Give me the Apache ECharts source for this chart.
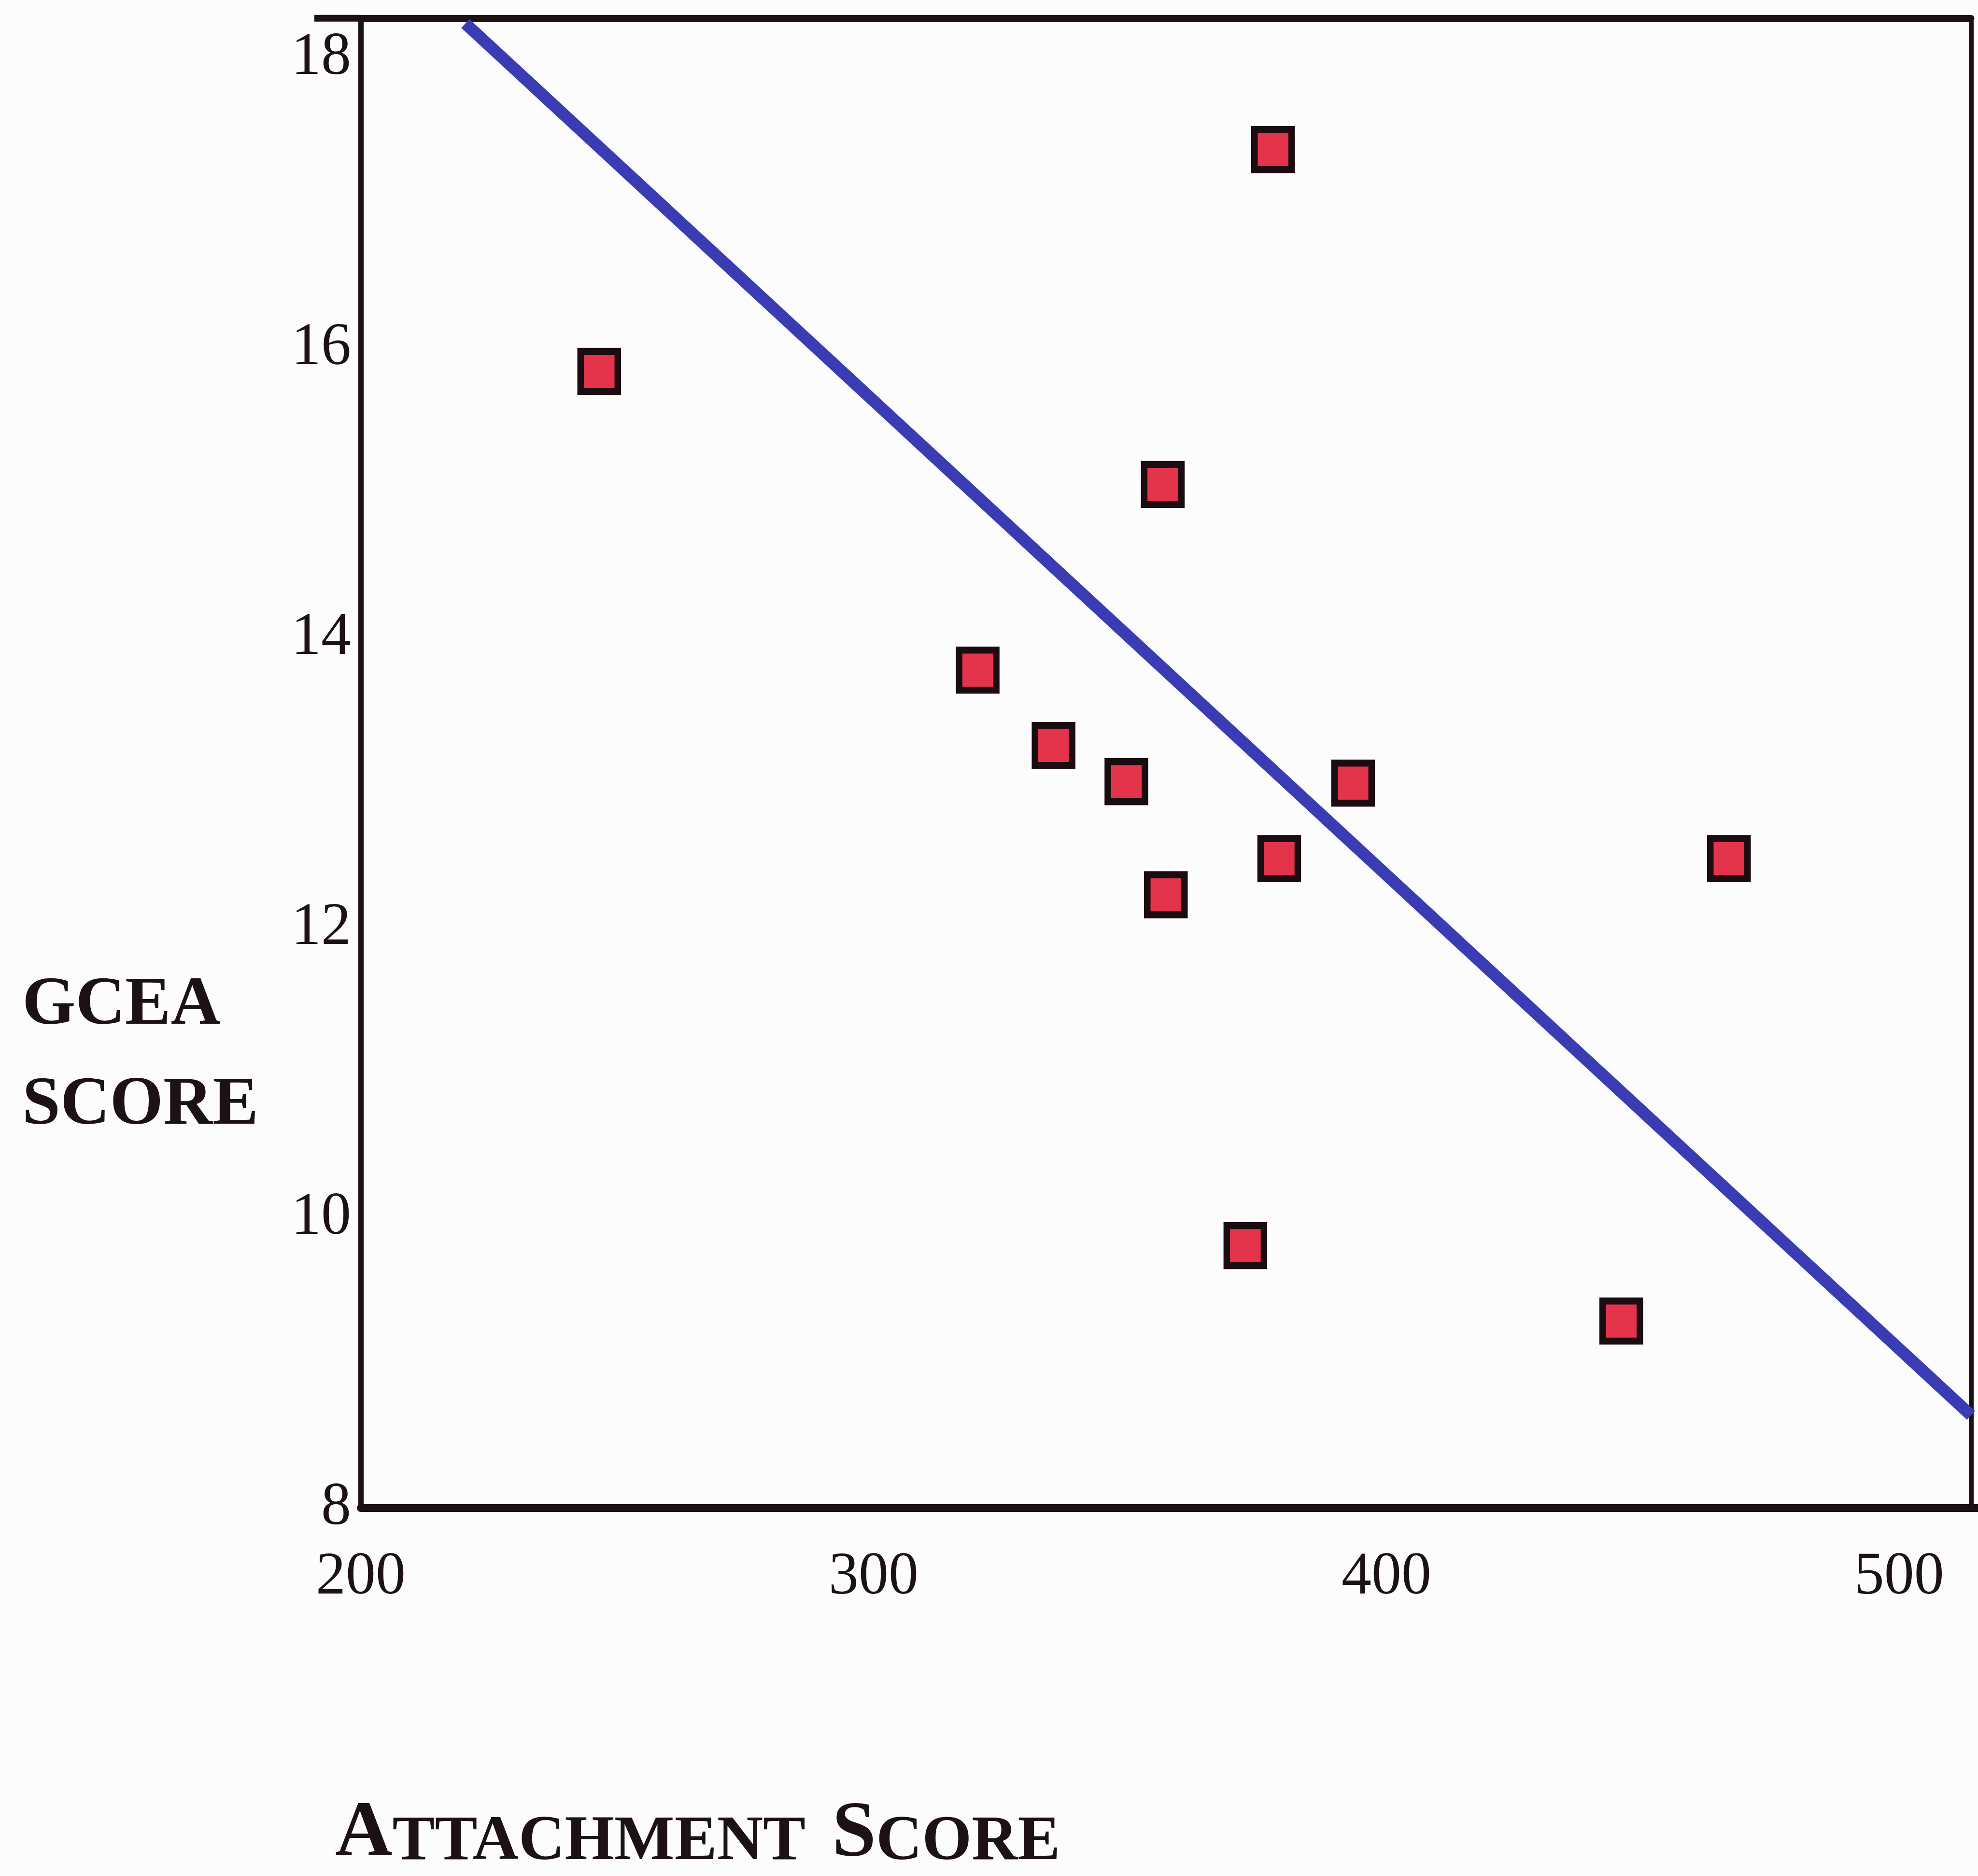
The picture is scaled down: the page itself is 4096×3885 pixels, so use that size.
<!DOCTYPE html>
<html>
<head>
<meta charset="utf-8">
<script src="https://cdn.jsdelivr.net/npm/echarts@6/dist/echarts.min.js"></script>
<style>
html,body{margin:0;padding:0;background:#fcfcfd;}
#chart{width:4096px;height:3885px;}
</style>
</head>
<body>
<div id="chart"></div>
<script>
// Data
const attachmentScores = [377.9, 246.5, 356.4, 320.3, 335.1, 349.3, 393.5, 379.1, 466.8, 357.0, 372.5, 445.8];
const gceaScores       = [17.37, 15.84, 15.06, 13.78, 13.26, 13.01, 13.00, 12.48, 12.48, 12.23, 9.81, 9.29];
const fitLineX = [220.4, 514];
const fitLineY = [18.24, 8.64];
const xTickLabels = [200, 300, 400, 500];
const yTickLabels = [8, 10, 12, 14, 16, 18];
const yTitle = 'GCEA\nSCORE';
const xTitleParts = ['A', 'TTACHMENT', 'S', 'CORE'];

const ink = '#1c1214';
const serif = '"Liberation Serif", "Times New Roman", serif';
const xMin = 200, xMax = 514, yMin = 8, yMax = 18.276;

// layout
const W = 4096, H = 3885;
const gridLeft = 747, gridRight = 14.5, gridTop = 37.8, gridBottom = 762;

const chart = echarts.init(document.getElementById('chart'), null, {renderer: 'canvas'});

const points = attachmentScores.map((x, i) => [x, gceaScores[i]]);
const fitLine = fitLineX.map((x, i) => [x, fitLineY[i]]);

chart.setOption({
  backgroundColor: '#fcfcfd',
  animation: false,
  title: [
    {
      text: yTitle,
      left: 46,
      top: 1980,
      padding: 0,
      textStyle: {
        fontFamily: serif, fontWeight: 'bold', fontSize: 142,
        lineHeight: 207, color: ink
      }
    },
    {
      text: '{b|' + xTitleParts[0] + '}{s|' + xTitleParts[1] + '}{sp| }{b|' + xTitleParts[2] + '}{s|' + xTitleParts[3] + '}',
      left: 694,
      top: 3718,
      padding: 0,
      textStyle: {
        rich: {
          b: {fontFamily: serif, fontWeight: 'bold', fontSize: 164, lineHeight: 164, verticalAlign: 'bottom', color: ink},
          s: {fontFamily: serif, fontWeight: 'bold', fontSize: 132, lineHeight: 132, verticalAlign: 'bottom', color: ink},
          sp: {fontFamily: serif, fontWeight: 'bold', fontSize: 132, lineHeight: 132, width: 55, verticalAlign: 'bottom', color: ink}
        }
      }
    }
  ],
  grid: {
    left: gridLeft, right: gridRight, top: gridTop, bottom: gridBottom,
    containLabel: false,
    outerBoundsMode: 'none'
  },
  // frame extensions: top rule runs past the left axis; bottom axis runs to page edge
  graphic: [
    {
      type: 'line', z: 10, silent: true,
      shape: {x1: gridLeft - 96, y1: gridTop, x2: gridLeft, y2: gridTop},
      style: {stroke: ink, lineWidth: 14}
    },
    {
      type: 'line', z: 10, silent: true,
      shape: {x1: W - gridRight, y1: H - gridBottom, x2: W, y2: H - gridBottom},
      style: {stroke: ink, lineWidth: 16}
    }
  ],
  xAxis: [
    {
      type: 'value', min: xMin, max: xMax, interval: 100, position: 'bottom',
      axisLine: {show: true, onZero: false, lineStyle: {color: ink, width: 16}},
      axisTick: {show: false},
      splitLine: {show: false},
      axisLabel: {
        margin: 82, fontSize: 124, fontFamily: serif, color: ink,
        showMinLabel: true, showMaxLabel: true, hideOverlap: false,
        formatter: v => xTickLabels.includes(v) ? String(v) : ''
      }
    },
    {
      type: 'value', min: xMin, max: xMax, position: 'top',
      axisLine: {show: true, onZero: false, lineStyle: {color: ink, width: 14}},
      axisTick: {show: false}, axisLabel: {show: false}, splitLine: {show: false}
    }
  ],
  yAxis: [
    {
      type: 'value', min: yMin, max: yMax, interval: 2, position: 'left',
      axisLine: {show: true, onZero: false, lineStyle: {color: ink, width: 11}},
      axisTick: {show: false},
      splitLine: {show: false},
      axisLabel: {
        margin: 20, fontSize: 124, fontFamily: serif, color: ink,
        showMinLabel: true, showMaxLabel: true, hideOverlap: false,
        formatter: v => yTickLabels.includes(v) ? String(v) : ''
      }
    },
    {
      type: 'value', min: yMin, max: yMax, position: 'right',
      axisLine: {show: true, onZero: false, lineStyle: {color: ink, width: 10}},
      axisTick: {show: false}, axisLabel: {show: false}, splitLine: {show: false}
    }
  ],
  series: [
    {
      type: 'line',
      data: fitLine,
      xAxisIndex: 0, yAxisIndex: 0,
      showSymbol: false,
      symbol: 'none',
      lineStyle: {color: '#3a3cb4', width: 25},
      z: 2
    },
    {
      type: 'scatter',
      data: points,
      xAxisIndex: 0, yAxisIndex: 0,
      symbol: 'rect',
      symbolSize: [77, 83],
      itemStyle: {color: '#e3344c', borderColor: '#1a0c10', borderWidth: 14, opacity: 1},
      z: 3
    }
  ]
});
</script>
</body>
</html>
